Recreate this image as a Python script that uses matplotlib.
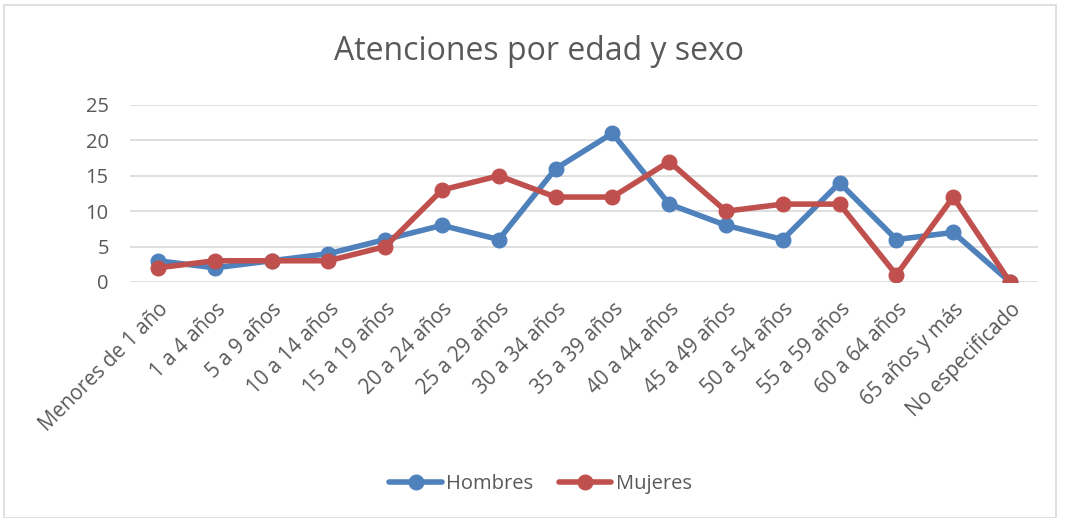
import matplotlib
matplotlib.use("Agg")
import matplotlib.pyplot as plt
from matplotlib.patches import Rectangle

categories = ["Menores de 1 año", "1 a 4 años", "5 a 9 años", "10 a 14 años",
              "15 a 19 años", "20 a 24 años", "25 a 29 años", "30 a 34 años",
              "35 a 39 años", "40 a 44 años", "45 a 49 años", "50 a 54 años",
              "55 a 59 años", "60 a 64 años", "65 años y más", "No especificado"]
hombres = [3, 2, 3, 4, 6, 8, 6, 16, 21, 11, 8, 6, 14, 6, 7, 0]
mujeres = [2, 3, 3, 3, 5, 13, 15, 12, 12, 17, 10, 11, 11, 1, 12, 0]
yticks = [0, 5, 10, 15, 20, 25]

plt.rcParams['font.family'] = ['Open Sans', 'DejaVu Sans']
txt = '#595959'

fig = plt.figure(figsize=(10.66, 5.18), dpi=100)
fig.patches.append(Rectangle((4/1066, 0.0), 1052/1066, 1 - 5/518, transform=fig.transFigure,
                             fill=False, edgecolor='#d9d9d9', linewidth=1.2))
ax = fig.add_axes([0.1216, 0.4556, 0.8525, 0.3417])
x = list(range(len(categories)))
ax.plot(x, hombres, color='#4F81BD', lw=4, marker='o', ms=10.5, label='Hombres', solid_capstyle='round')
ax.plot(x, mujeres, color='#C0504D', lw=4, marker='o', ms=10.5, label='Mujeres', solid_capstyle='round')
ax.set_xlim(-0.5, len(categories) - 0.5)
ax.set_ylim(0, 25)
ax.set_yticks(yticks)
ax.set_xticks(x)
ax.set_xticklabels(categories, rotation=45, ha='right', rotation_mode='anchor', fontsize=14.8, color=txt)
ax.tick_params(axis='y', labelsize=14.5, labelcolor=txt, length=0, pad=15)
ax.tick_params(axis='x', length=0, pad=12)
ax.grid(axis='y', color='#d9d9d9', lw=1.2)
ax.set_axisbelow(True)
for s in ax.spines.values():
    s.set_visible(False)
fig.text(0.506, 0.9, "Atenciones por edad y sexo", ha='center', va='center', fontsize=23, color=txt)
fig.legend(loc='center', bbox_to_anchor=(0.507, 0.066), ncol=2, frameon=False, fontsize=14.5,
           labelcolor=txt, handlelength=2.6, columnspacing=1.3, handletextpad=0.2)
fig.savefig('out.png', dpi=100)
